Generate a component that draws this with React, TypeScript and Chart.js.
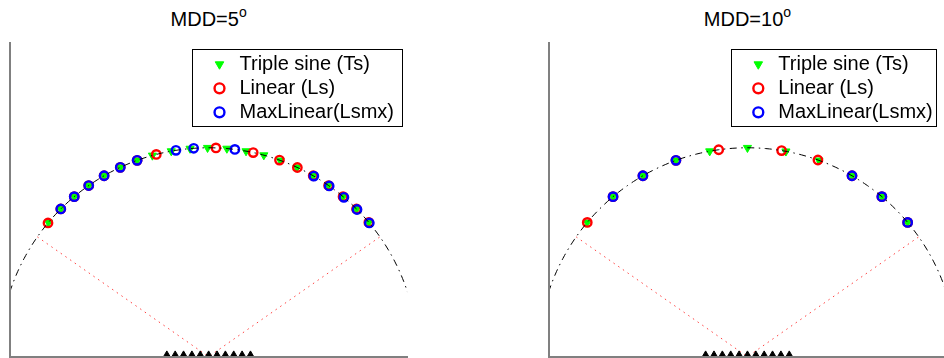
import React, { useEffect, useRef } from 'react';
import { Chart, registerables } from 'chart.js';

Chart.register(...registerables);

// ---------------- data ----------------
const seriesLabels = ['Triple sine (Ts)', 'Linear (Ls)', 'MaxLinear(Lsmx)'];
const panelTitles = ['MDD=5', 'MDD=10'];
const titleSuperscript = 'o';

// estimated DOAs in degrees (0 = broadside, negative = left)
const mdd5Ts = [-50, -45, -40, -35, -30, -25, -20, -15.6, -10.3, -5.1, -0.3, 5.0, 10.3, 15.3, 20, 25, 30, 35, 40, 45, 50];
const mdd5Ls = [-50.2, -45, -40, -35, -30, -25, -20, -14.5, 2.0, 12.3, 19.8, 25.1, 30, 35, 40, 45, 50];
const mdd5Lsmx = [-45, -40, -35, -30, -25, -20, -9.0, -4.1, 7.2, 30.2, 35.2, 40.3, 45.2, 50.2];

const mdd10Ts = [-50, -40, -30, -20, -10.4, 0, 10.6, 20, 30, 40, 50];
const mdd10Ls = [-50, -40, -30, -20, -7.9, 9.4, 19.7, 30, 40, 50];
const mdd10Lsmx = [-40, -30, -20, 30, 40, 50];

// sensor array elements on the baseline
const sensorX = [-0.2, -0.16, -0.12, -0.08, -0.04, 0, 0.04, 0.08, 0.12, 0.16, 0.2];
const sensorY = [0, 0, 0, 0, 0, 0, 0, 0, 0, 0, 0];

// edges of the angular sector (degrees)
const sectorEdgeDeg = [-55, 55];

// axis limits
const xLimits = [-0.95, 0.95];
const yLimits = [0, 1.5];

// ---------------- helpers ----------------
const GREEN = '#00ff00';
const RED = '#ff0000';
const BLUE = '#0000ff';
const FONT = '"Liberation Sans", Arial, Helvetica, sans-serif';

const polar = (deg: number, r = 1) => ({
  x: r * Math.sin((deg * Math.PI) / 180),
  y: r * Math.cos((deg * Math.PI) / 180),
});

// reference unit circle (geometry, not data)
const unitCircleDeg = Array.from({ length: 181 }, (_, i) => i - 90);

const legendFramePlugin = {
  id: 'legendFrame',
  beforeDraw(chart: any, _args: any, opts: any) {
    const lg = chart.legend;
    const ca = chart.chartArea;
    if (!lg || !ca) return;
    lg.left = ca.left + opts.legendDx;
    lg.top = ca.top + opts.legendDy;
    lg.right = lg.left + lg.width;
    lg.bottom = lg.top + lg.height;
  },
  afterDraw(chart: any, _args: any, opts: any) {
    const ctx = chart.ctx;
    const ca = chart.chartArea;
    ctx.save();
    ctx.strokeStyle = '#000';
    ctx.lineWidth = 1;
    ctx.setLineDash([]);
    const x = Math.round(ca.left + opts.dx) + 0.5;
    const y = Math.round(ca.top + opts.dy) + 0.5;
    ctx.strokeRect(x, y, Math.round(opts.w), Math.round(opts.h));
    ctx.restore();
  },
};

const PLOT_W = 397.3;
const PLOT_TOP = 43.3;
const CANVAS_W = 472;
const CANVAS_H = 358;
const PAD_BOTTOM = 1.3;

type PanelProps = {
  canvasLeft: number;
  padLeft: number;
  title: string;
  ts: number[];
  ls: number[];
  lsmx: number[];
  frameDx: number;
  frameW: number;
};

function Panel({ canvasLeft, padLeft, title, ts, ls, lsmx, frameDx, frameW }: PanelProps) {
  const ref = useRef<HTMLCanvasElement>(null);

  useEffect(() => {
    if (!ref.current) return;
    const axisOpts = (min: number, max: number) => ({
      type: 'linear' as const,
      min,
      max,
      ticks: { display: false },
      grid: { display: false, drawTicks: false },
      border: { display: true, color: '#808080', width: 2, z: 1 },
    });

    const chart = new Chart(ref.current, {
      type: 'scatter',
      data: {
        datasets: [
          {
            label: seriesLabels[0],
            data: ts.map((d) => polar(d)),
            pointStyle: 'triangle',
            pointRotation: 180,
            pointRadius: 4.7,
            pointHoverRadius: 4.7,
            pointBackgroundColor: GREEN,
            pointBorderColor: GREEN,
            pointBorderWidth: 1,
            backgroundColor: GREEN,
            borderColor: GREEN,
            order: 4,
          },
          {
            label: seriesLabels[1],
            data: ls.map((d) => polar(d)),
            pointStyle: 'circle',
            pointRadius: 4.2,
            pointHoverRadius: 4.2,
            pointBackgroundColor: 'rgba(0,0,0,0)',
            pointBorderColor: RED,
            pointBorderWidth: 2.4,
            backgroundColor: 'rgba(0,0,0,0)',
            borderColor: RED,
            order: 3,
          },
          {
            label: seriesLabels[2],
            data: lsmx.map((d) => polar(d)),
            pointStyle: 'circle',
            pointRadius: 4.2,
            pointHoverRadius: 4.2,
            pointBackgroundColor: 'rgba(0,0,0,0)',
            pointBorderColor: BLUE,
            pointBorderWidth: 2.4,
            backgroundColor: 'rgba(0,0,0,0)',
            borderColor: BLUE,
            order: 2,
          },
          {
            label: 'circle',
            data: unitCircleDeg.map((d) => polar(d)),
            showLine: true,
            borderColor: '#000',
            borderWidth: 1,
            borderDash: [7, 4.5, 1.5, 4.5],
            pointRadius: 0,
            pointHoverRadius: 0,
            tension: 0,
            clip: 0,
            order: 0,
          },
          {
            label: 'array',
            data: sensorX.map((x, i) => ({ x, y: sensorY[i] })),
            pointStyle: 'triangle',
            pointRadius: 5.8,
            pointHoverRadius: 5.8,
            pointBackgroundColor: '#000',
            pointBorderColor: '#000',
            pointBorderWidth: 1,
            order: 1,
          },
          {
            label: 'sector',
            data: [polar(sectorEdgeDeg[0]), { x: 0, y: 0 }, polar(sectorEdgeDeg[1])],
            showLine: true,
            borderColor: 'rgba(255,0,0,0.75)',
            borderWidth: 1,
            borderDash: [1.5, 4.2],
            pointRadius: 0,
            pointHoverRadius: 0,
            tension: 0,
            order: 5,
          },
        ],
      },
      options: {
        responsive: false,
        animation: false,
        events: [],
        layout: {
          autoPadding: false,
          padding: {
            left: padLeft,
            right: CANVAS_W - padLeft - PLOT_W,
            top: PLOT_TOP,
            bottom: PAD_BOTTOM,
          },
        },
        scales: {
          x: axisOpts(xLimits[0], xLimits[1]),
          y: axisOpts(yLimits[0], yLimits[1]),
        },
        plugins: {
          tooltip: { enabled: false },
          title: { display: false },
          legend: {
            display: true,
            position: 'chartArea',
            align: 'start',
            labels: {
              usePointStyle: true,
              boxHeight: 7,
              padding: 4,
              color: '#000',
              font: { family: FONT, size: 20 },
              filter: (item: any) => item.datasetIndex < 3,
              sort: (a: any, b: any) => a.datasetIndex - b.datasetIndex,
            },
          },
          legendFrame: {
            legendDx: 195.5,
            legendDy: 7,
            dx: frameDx,
            dy: 6,
            w: frameW,
            h: 76.7,
          },
        } as any,
      },
      plugins: [legendFramePlugin],
    } as any);

    return () => chart.destroy();
  }, []);

  return (
    <>
      <div
        style={{
          position: 'absolute',
          left: canvasLeft + padLeft,
          top: 8.8,
          width: PLOT_W,
          textAlign: 'center',
          fontFamily: FONT,
          fontSize: 20,
          lineHeight: '20px',
          color: '#000',
          whiteSpace: 'nowrap',
        }}
      >
        {title}
        <span style={{ fontSize: 14, verticalAlign: '9.5px', lineHeight: 0 }}>{titleSuperscript}</span>
      </div>
      <canvas
        ref={ref}
        width={CANVAS_W}
        height={CANVAS_H}
        style={{ position: 'absolute', left: canvasLeft, top: 0, width: CANVAS_W, height: CANVAS_H }}
      />
    </>
  );
}

export default function App() {
  return (
    <div
      style={{
        position: 'absolute',
        left: 0,
        top: 0,
        width: 944,
        height: 358,
        overflow: 'hidden',
        background: '#fff',
      }}
    >
      <Panel
        canvasLeft={0}
        padLeft={10}
        title={panelTitles[0]}
        ts={mdd5Ts}
        ls={mdd5Ls}
        lsmx={mdd5Lsmx}
        frameDx={181.7}
        frameW={210}
      />
      <Panel
        canvasLeft={539}
        padLeft={9.8}
        title={panelTitles[1]}
        ts={mdd10Ts}
        ls={mdd10Ls}
        lsmx={mdd10Lsmx}
        frameDx={182.5}
        frameW={204.7}
      />
    </div>
  );
}
